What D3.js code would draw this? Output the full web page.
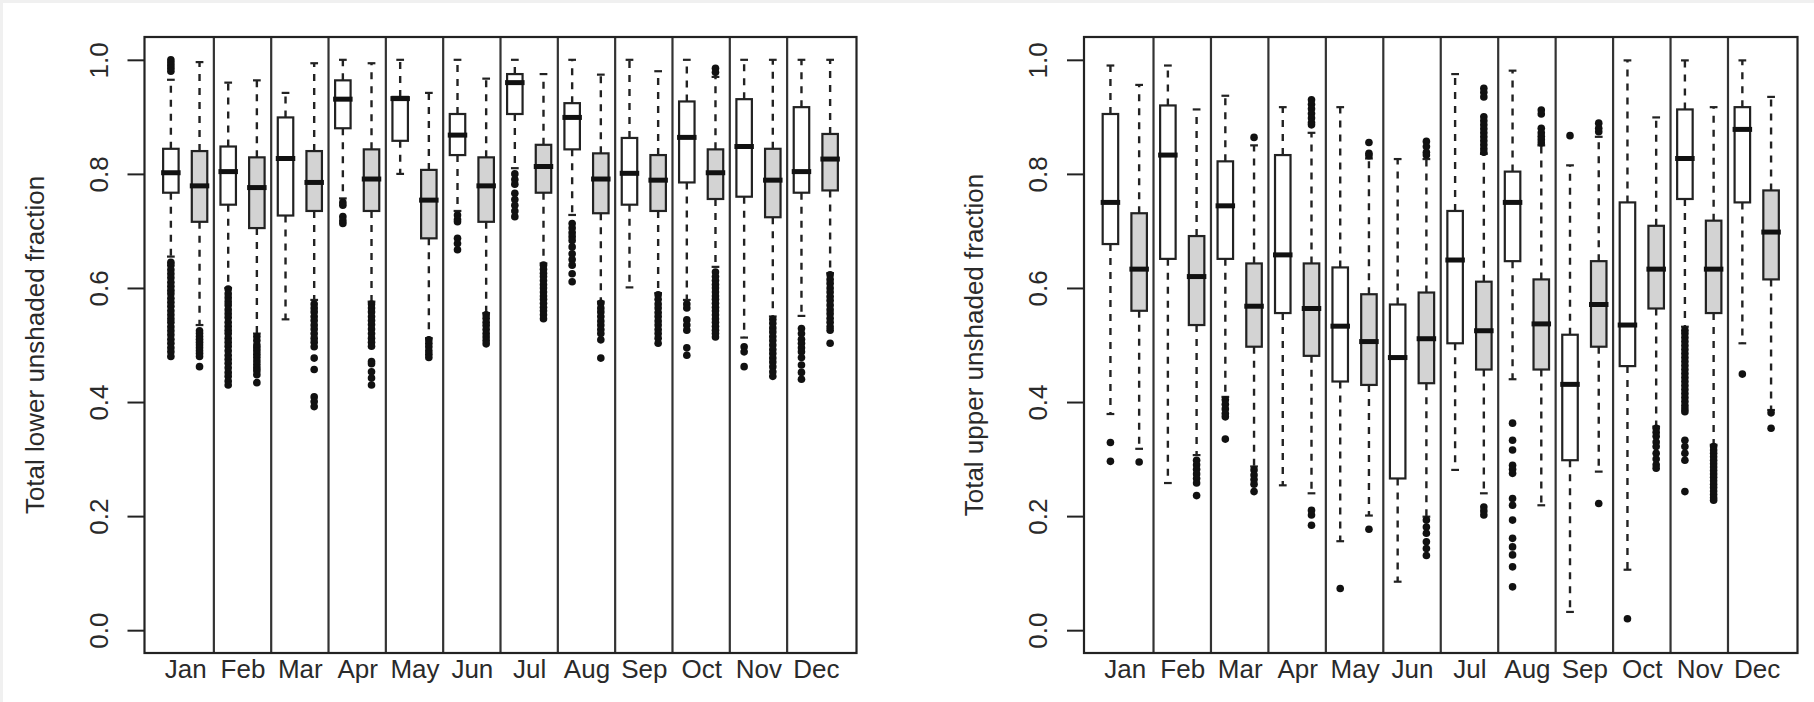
<!DOCTYPE html>
<html>
<head>
<meta charset="utf-8">
<script src="https://cdn.jsdelivr.net/npm/d3@7"></script>
<style>
  body { margin: 0; background: #fff; }
  text { font-family: "Liberation Sans", Arial, sans-serif; fill: #2a2a2a; }
</style>
</head>
<body>
<script>
var months = ["Jan", "Feb", "Mar", "Apr", "May", "Jun", "Jul", "Aug", "Sep", "Oct", "Nov", "Dec"];
var yTicks = [0, 0.2, 0.4, 0.6, 0.8, 1.0];

// five numbers per box: lower whisker, Q1, median, Q3, upper whisker
var lowerWhiteStats = [
  [0.655, 0.767, 0.802, 0.844, 0.965], [0.600, 0.746, 0.804, 0.848, 0.960],
  [0.545, 0.727, 0.827, 0.899, 0.942], [0.757, 0.880, 0.931, 0.964, 1.000],
  [0.800, 0.858, 0.932, 0.935, 1.000], [0.735, 0.833, 0.868, 0.905, 1.000],
  [0.810, 0.905, 0.960, 0.975, 1.000], [0.728, 0.843, 0.899, 0.924, 1.000],
  [0.601, 0.746, 0.801, 0.863, 1.000], [0.579, 0.785, 0.864, 0.927, 1.000],
  [0.513, 0.760, 0.848, 0.931, 1.000], [0.551, 0.767, 0.804, 0.917, 1.000]
];
var lowerWhiteOut = [
  [1.0, 0.995, 0.99, 0.985, 0.98, 0.645, 0.64, 0.632, 0.625, 0.618, 0.61, 0.603, 0.596, 0.59, 0.582, 0.575, 0.568, 0.56, 0.553, 0.546, 0.54, 0.532, 0.525, 0.518, 0.51, 0.503, 0.495, 0.488, 0.48],
  [0.598, 0.59, 0.583, 0.576, 0.57, 0.562, 0.555, 0.548, 0.54, 0.533, 0.526, 0.52, 0.512, 0.505, 0.498, 0.49, 0.482, 0.475, 0.468, 0.46, 0.452, 0.445, 0.437, 0.43],
  [],
  [0.75, 0.745, 0.725, 0.718, 0.713],
  [],
  [0.728, 0.72, 0.716, 0.687, 0.678, 0.667],
  [0.80, 0.79, 0.782, 0.766, 0.755, 0.745, 0.735, 0.725],
  [0.713, 0.705, 0.697, 0.69, 0.683, 0.672, 0.66, 0.65, 0.64, 0.625, 0.611],
  [],
  [0.572, 0.565, 0.544, 0.535, 0.526, 0.495, 0.482],
  [0.497, 0.488, 0.462],
  [0.529, 0.52, 0.51, 0.503, 0.495, 0.488, 0.478, 0.465, 0.452, 0.44]
];
var lowerGrayStats = [
  [0.535, 0.716, 0.779, 0.840, 0.996], [0.520, 0.705, 0.776, 0.829, 0.964],
  [0.579, 0.735, 0.785, 0.840, 0.994], [0.576, 0.735, 0.791, 0.843, 0.994],
  [0.512, 0.687, 0.754, 0.807, 0.942], [0.556, 0.716, 0.779, 0.829, 0.967],
  [0.643, 0.767, 0.813, 0.851, 0.975], [0.576, 0.731, 0.791, 0.836, 0.974],
  [0.591, 0.735, 0.789, 0.833, 0.980], [0.637, 0.756, 0.802, 0.843, 0.970],
  [0.550, 0.724, 0.789, 0.844, 1.000], [0.626, 0.771, 0.826, 0.870, 1.000]
];
var lowerGrayOut = [
  [0.525, 0.52, 0.515, 0.51, 0.505, 0.5, 0.495, 0.49, 0.485, 0.48, 0.462],
  [0.515, 0.508, 0.5, 0.495, 0.49, 0.484, 0.478, 0.472, 0.466, 0.46, 0.455, 0.448, 0.434],
  [0.572, 0.565, 0.558, 0.55, 0.543, 0.535, 0.528, 0.52, 0.512, 0.505, 0.497, 0.477, 0.457, 0.409, 0.401, 0.392],
  [0.572, 0.565, 0.558, 0.55, 0.543, 0.536, 0.528, 0.52, 0.512, 0.505, 0.498, 0.471, 0.467, 0.453, 0.442, 0.43],
  [0.509, 0.503, 0.497, 0.49, 0.484, 0.478],
  [0.553, 0.547, 0.54, 0.534, 0.527, 0.52, 0.514, 0.508, 0.502],
  [0.64, 0.633, 0.626, 0.62, 0.613, 0.606, 0.6, 0.593, 0.586, 0.58, 0.573, 0.566, 0.56, 0.553, 0.546],
  [0.573, 0.565, 0.558, 0.55, 0.542, 0.535, 0.527, 0.52, 0.509, 0.477],
  [0.588, 0.58, 0.572, 0.565, 0.557, 0.55, 0.542, 0.535, 0.527, 0.52, 0.512, 0.503],
  [0.985, 0.978, 0.628, 0.62, 0.613, 0.606, 0.6, 0.593, 0.586, 0.58, 0.573, 0.566, 0.56, 0.553, 0.546, 0.54, 0.533, 0.526, 0.52, 0.514],
  [0.545, 0.538, 0.53, 0.523, 0.515, 0.508, 0.5, 0.492, 0.485, 0.477, 0.47, 0.462, 0.453, 0.445],
  [0.623, 0.615, 0.608, 0.6, 0.593, 0.585, 0.578, 0.57, 0.562, 0.555, 0.547, 0.54, 0.532, 0.526, 0.503]
];

var upperWhiteStats = [
  [0.379, 0.677, 0.750, 0.905, 0.990], [0.258, 0.651, 0.833, 0.920, 0.990],
  [0.409, 0.651, 0.744, 0.822, 0.937], [0.254, 0.556, 0.658, 0.833, 0.917],
  [0.156, 0.436, 0.533, 0.636, 0.917], [0.085, 0.266, 0.478, 0.571, 0.826],
  [0.281, 0.503, 0.649, 0.735, 0.975], [0.440, 0.647, 0.750, 0.804, 0.981],
  [0.032, 0.298, 0.431, 0.518, 0.815], [0.106, 0.463, 0.535, 0.750, 0.999],
  [0.532, 0.756, 0.827, 0.913, 0.999], [0.503, 0.750, 0.878, 0.917, 0.999]
];
var upperWhiteOut = [
  [0.329, 0.296],
  [],
  [0.404, 0.396, 0.388, 0.38, 0.374, 0.335],
  [],
  [0.073],
  [],
  [],
  [0.363, 0.333, 0.316, 0.289, 0.282, 0.275, 0.231, 0.219, 0.193, 0.161, 0.146, 0.132, 0.111, 0.076],
  [0.867],
  [0.020],
  [0.526, 0.52, 0.513, 0.506, 0.499, 0.492, 0.485, 0.478, 0.471, 0.464, 0.457, 0.45, 0.443, 0.436, 0.429, 0.422, 0.415, 0.408, 0.401, 0.394, 0.388, 0.383, 0.333, 0.322, 0.31, 0.298, 0.243],
  [0.449]
];
var upperGrayStats = [
  [0.318, 0.560, 0.633, 0.731, 0.956], [0.307, 0.535, 0.620, 0.691, 0.913],
  [0.287, 0.497, 0.568, 0.643, 0.850], [0.240, 0.481, 0.564, 0.643, 0.872],
  [0.201, 0.430, 0.506, 0.589, 0.827], [0.199, 0.433, 0.511, 0.592, 0.826],
  [0.240, 0.457, 0.525, 0.611, 0.835], [0.219, 0.457, 0.537, 0.615, 0.850],
  [0.278, 0.497, 0.571, 0.647, 0.865], [0.357, 0.564, 0.633, 0.709, 0.899],
  [0.325, 0.556, 0.633, 0.718, 0.917], [0.386, 0.615, 0.698, 0.771, 0.935]
];
var upperGrayOut = [
  [0.295],
  [0.298, 0.29, 0.282, 0.274, 0.266, 0.258, 0.236],
  [0.864, 0.281, 0.272, 0.264, 0.256, 0.243],
  [0.930, 0.922, 0.914, 0.906, 0.898, 0.89, 0.886, 0.21, 0.202, 0.184],
  [0.855, 0.836, 0.832, 0.177],
  [0.857, 0.848, 0.838, 0.833, 0.193, 0.181, 0.17, 0.155, 0.143, 0.131],
  [0.95, 0.943, 0.935, 0.9, 0.893, 0.886, 0.879, 0.872, 0.865, 0.858, 0.851, 0.844, 0.838, 0.216, 0.209, 0.202],
  [0.912, 0.905, 0.88, 0.872, 0.866, 0.86, 0.854],
  [0.889, 0.88, 0.874, 0.222],
  [0.354, 0.347, 0.34, 0.33, 0.322, 0.31, 0.3, 0.29, 0.284],
  [0.322, 0.316, 0.31, 0.304, 0.298, 0.292, 0.286, 0.28, 0.274, 0.268, 0.262, 0.256, 0.25, 0.244, 0.238, 0.232, 0.228],
  [0.381, 0.354]
];

var W = 1814, H = 702;
var svg = d3.select("body").append("svg").attr("width", W).attr("height", H);

// light grey frame on the top and left edge of the picture
svg.append("rect").attr("width", W).attr("height", H).attr("fill", "#f0f0f0");
svg.append("rect").attr("x", 3).attr("y", 3).attr("width", W - 3).attr("height", H - 3).attr("fill", "#fff");

var y = d3.scaleLinear().domain([-0.04, 1.04]).range([653, 37]);

var panels = [
  { left: 144.5, right: 856.5, title: "Total lower unshaded fraction",
    series: [ { stats: lowerWhiteStats, out: lowerWhiteOut, fill: "#ffffff", pos: 1 },
              { stats: lowerGrayStats, out: lowerGrayOut, fill: "#d3d3d3", pos: 2 } ] },
  { left: 1084, right: 1797.5, title: "Total upper unshaded fraction",
    series: [ { stats: upperWhiteStats, out: upperWhiteOut, fill: "#ffffff", pos: 1 },
              { stats: upperGrayStats, out: upperGrayOut, fill: "#d3d3d3", pos: 2 } ] }
];

panels.forEach(function(p) {
  var x = d3.scaleLinear().domain([0.08, 24.92]).range([p.left, p.right]);
  var g = svg.append("g");
  var bw = x(1.27) - x(0.73);
  var sw = bw / 2;

  // month separators
  var seps = d3.range(1, 12).map(function(i) { return 2 * i + 0.5; });
  g.selectAll(".sep").data(seps).enter().append("line")
    .attr("x1", function(d) { return x(d); }).attr("x2", function(d) { return x(d); })
    .attr("y1", y.range()[0]).attr("y2", y.range()[1])
    .attr("stroke", "#333").attr("stroke-width", 2.2);

  p.series.forEach(function(s) {
    var boxes = s.stats.map(function(d, i) {
      return { cx: x(2 * i + s.pos), lo: d[0], q1: d[1], med: d[2], q3: d[3], hi: d[4], out: s.out[i] };
    });
    var bg = g.selectAll(null).data(boxes).enter().append("g");

    // whiskers, dashed, from box to staple
    bg.append("line")
      .attr("x1", function(d) { return d.cx; }).attr("x2", function(d) { return d.cx; })
      .attr("y1", function(d) { return y(d.q3); }).attr("y2", function(d) { return y(d.hi); })
      .attr("stroke", "#222").attr("stroke-width", 2.4).attr("stroke-dasharray", "7,7");
    bg.append("line")
      .attr("x1", function(d) { return d.cx; }).attr("x2", function(d) { return d.cx; })
      .attr("y1", function(d) { return y(d.q1); }).attr("y2", function(d) { return y(d.lo); })
      .attr("stroke", "#222").attr("stroke-width", 2.4).attr("stroke-dasharray", "7,7");
    // staples
    ["hi", "lo"].forEach(function(k) {
      bg.append("line")
        .attr("x1", function(d) { return d.cx - sw / 2; }).attr("x2", function(d) { return d.cx + sw / 2; })
        .attr("y1", function(d) { return y(d[k]); }).attr("y2", function(d) { return y(d[k]); })
        .attr("stroke", "#222").attr("stroke-width", 2.2);
    });
    // box
    bg.append("rect")
      .attr("x", function(d) { return d.cx - bw / 2; })
      .attr("y", function(d) { return y(d.q3); })
      .attr("width", bw)
      .attr("height", function(d) { return y(d.q1) - y(d.q3); })
      .attr("fill", s.fill).attr("stroke", "#222").attr("stroke-width", 2.2);
    // median
    bg.append("line")
      .attr("x1", function(d) { return d.cx - bw / 2 - 2; }).attr("x2", function(d) { return d.cx + bw / 2 + 2; })
      .attr("y1", function(d) { return y(d.med); }).attr("y2", function(d) { return y(d.med); })
      .attr("stroke", "#111").attr("stroke-width", 5);
    // outliers
    bg.selectAll("circle").data(function(d) { return d.out.map(function(v) { return { cx: d.cx, v: v }; }); })
      .enter().append("circle")
      .attr("cx", function(d) { return d.cx; })
      .attr("cy", function(d) { return y(d.v); })
      .attr("r", 3.8).attr("fill", "#111");
  });

  // y axis
  var ya = g.append("g").attr("transform", "translate(" + p.left + ",0)")
    .call(d3.axisLeft(y).tickValues(yTicks).tickFormat(d3.format(".1f")).tickSize(17));
  ya.select(".domain").remove();
  ya.selectAll("line").attr("stroke", "#222").attr("stroke-width", 2);
  ya.selectAll("text")
    .attr("x", null).attr("dy", null)
    .attr("transform", "translate(-37,0) rotate(-90)")
    .attr("text-anchor", "middle")
    .style("font-size", "26px").style("font-family", "'Liberation Sans', Arial, sans-serif").attr("fill", "#2a2a2a");

  // x axis, month names between each pair of boxes
  var xa = g.append("g").attr("transform", "translate(0," + y.range()[0] + ")")
    .call(d3.axisBottom(x).tickValues(months.map(function(m, i) { return 2 * i + 1.5; }))
      .tickFormat(function(d, i) { return months[i]; }).tickSize(0));
  xa.select(".domain").remove();
  xa.selectAll("text").attr("y", 25).attr("dy", null)
    .style("font-size", "26px").style("font-family", "'Liberation Sans', Arial, sans-serif").attr("fill", "#2a2a2a");

  // plot frame
  g.append("rect")
    .attr("x", p.left).attr("y", y.range()[1])
    .attr("width", p.right - p.left).attr("height", y.range()[0] - y.range()[1])
    .attr("fill", "none").attr("stroke", "#222").attr("stroke-width", 2.2);

  // y title
  g.append("text")
    .attr("transform", "translate(" + (p.left - 101) + "," + ((y.range()[0] + y.range()[1]) / 2) + ") rotate(-90)")
    .attr("text-anchor", "middle")
    .style("font-size", "26px").attr("fill", "#333")
    .text(p.title);
});
</script>
</body>
</html>
